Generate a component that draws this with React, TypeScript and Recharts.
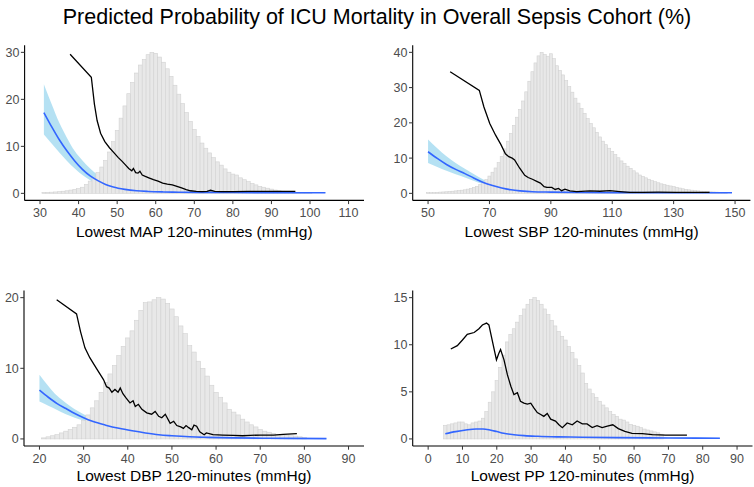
import React from 'react';
import { ComposedChart, Bar, Line, Area, XAxis, YAxis } from 'recharts';

const FONT = '"Liberation Sans", Arial, Helvetica, sans-serif';

const chartTitle = 'Predicted Probability of ICU Mortality in Overall Sepsis Cohort (%)';

// ---- MAP ----
const mapBinStart = 31;
const mapHist = [0.2, 0.2, 0.25, 0.3, 0.35, 0.45, 0.55, 0.7, 0.85, 1.0, 1.3, 1.9, 2.6, 3.4, 4.4, 5.6, 7.0, 8.8, 11.0, 13.4,
  16.0, 18.6, 21.2, 23.6, 25.6, 27.3, 28.5, 29.5, 30.0, 29.8, 29.0, 27.9, 26.5, 24.9, 23.0, 21.1, 19.1, 17.2, 15.3, 13.6,
  12.1, 10.7, 9.6, 8.6, 7.6, 6.7, 6.0, 5.2, 4.5, 4.1, 3.9, 3.3, 2.9, 2.5, 2.1, 1.8, 1.5, 1.3, 1.1, 0.9,
  0.7, 0.55, 0.45, 0.35, 0.3, 0.25, 0.2, 0.15, 0.12, 0.1];
const mapObsX = [37.8, 43.3, 44.1, 44.8, 45.7, 46.8, 48.0, 49.2, 50.3, 51.3, 52.2, 53.0, 53.8, 54.2, 54.8, 55.4, 55.9, 56.5,
  57.3, 58.2, 59.4, 60.6, 61.8, 63.0, 64.3, 65.5, 66.7, 67.9, 69.0, 70.5, 72.0, 73.3, 74.2, 75.3, 77.0, 80.0, 84.0, 88.0, 92.0, 96.2];
const mapObsY = [29.6, 24.7, 19.0, 15.5, 12.8, 11.0, 9.7, 8.6, 7.6, 6.8, 6.0, 5.3, 4.8, 5.3, 4.4, 4.3, 4.7, 3.9,
  3.6, 3.3, 2.9, 2.6, 2.2, 1.95, 1.8, 1.5, 1.15, 0.8, 0.55, 0.4, 0.35, 0.4, 0.65, 0.4, 0.35, 0.35, 0.4, 0.4, 0.4, 0.4];
const mapFitX = [31, 33, 35, 37, 39, 41, 43, 45, 47, 49, 52, 55, 58, 62, 66, 72, 80, 90, 104];
const mapFitY = [17.2, 14.2, 11.4, 9.0, 6.9, 5.1, 3.7, 2.7, 1.9, 1.35, 0.85, 0.55, 0.4, 0.3, 0.25, 0.2, 0.17, 0.15, 0.13];
const mapFitLo = [12.5, 10.6, 8.7, 6.9, 5.3, 3.9, 2.8, 2.0, 1.4, 1.0, 0.65, 0.42, 0.3, 0.22, 0.17, 0.13, 0.1, 0.08, 0.05];
const mapFitHi = [23.2, 19.0, 15.0, 11.8, 9.0, 7.0, 5.3, 3.9, 2.8, 2.0, 1.2, 0.75, 0.55, 0.42, 0.35, 0.3, 0.27, 0.24, 0.22];
const mapXTicks = [30, 40, 50, 60, 70, 80, 90, 100, 110];
const mapYTicks = [0, 10, 20, 30];

// ---- SBP ----
const sbpBinStart = 50;
const sbpHist = [0.2, 0.2, 0.25, 0.3, 0.35, 0.4, 0.45, 0.5, 0.6, 0.7, 0.8, 0.9, 1.0, 1.2, 1.4, 1.7, 2.0, 2.5, 3.1, 3.9,
  4.9, 6.0, 7.2, 8.7, 10.5, 12.6, 14.8, 17.0, 19.3, 21.6, 23.8, 26.2, 28.8, 31.8, 34.5, 37.0, 39.0, 40.0, 39.4, 38.9,
  39.6, 38.2, 36.2, 34.9, 33.6, 32.0, 30.3, 28.7, 27.0, 25.6, 24.1, 22.7, 21.2, 19.8, 18.6, 17.3, 16.0, 14.8, 13.8, 12.8,
  11.9, 11.0, 10.1, 9.2, 8.5, 7.7, 7.1, 6.4, 5.8, 5.2, 4.8, 4.4, 4.0, 3.6, 3.3, 3.0, 2.7, 2.5, 2.3, 2.1,
  1.9, 1.7, 1.5, 1.3, 1.15, 1.0, 0.9, 0.8, 0.7, 0.6, 0.55, 0.5, 0.45, 0.4, 0.35, 0.3, 0.25, 0.2];
const sbpObsX = [57.2, 66.7, 68.2, 70.1, 72.0, 73.7, 75.2, 76.3, 77.4, 78.2, 79.8, 81.5, 82.6, 84.0, 85.4, 86.6, 87.8,
  88.7, 90.3, 91.4, 92.5, 93.5, 94.6, 96.2, 98.4, 102.7, 106.0, 109.2, 112.5, 115.7, 120.0, 125.0, 130.9, 136.0, 141.7];
const sbpObsY = [34.5, 29.2, 24.5, 19.8, 16.5, 13.9, 11.2, 10.4, 10.0, 9.5, 7.2, 5.1, 4.5, 4.0, 3.4, 2.9, 1.9,
  1.7, 1.7, 1.1, 1.4, 0.75, 1.2, 0.7, 0.5, 0.7, 0.6, 0.75, 0.5, 0.3, 0.3, 0.35, 0.3, 0.3, 0.3];
const sbpFitX = [50, 53, 56, 59, 62, 65, 68, 71, 74, 77, 80, 84, 90, 100, 115, 130, 149];
const sbpFitY = [11.8, 9.9, 8.2, 6.8, 5.6, 4.3, 3.1, 2.2, 1.5, 1.0, 0.7, 0.45, 0.35, 0.25, 0.2, 0.17, 0.15];
const sbpFitLo = [8.6, 7.5, 6.4, 5.4, 4.5, 3.5, 2.6, 1.8, 1.2, 0.8, 0.55, 0.35, 0.25, 0.18, 0.13, 0.1, 0.08];
const sbpFitHi = [15.3, 12.8, 10.5, 8.6, 7.0, 5.4, 3.9, 2.8, 1.9, 1.3, 0.9, 0.6, 0.45, 0.33, 0.28, 0.25, 0.24];
const sbpXTicks = [50, 70, 90, 110, 130, 150];
const sbpYTicks = [0, 10, 20, 30, 40];

// ---- DBP ----
const dbpBinStart = 21;
const dbpHist = [0.15, 0.3, 0.45, 0.6, 0.85, 1.1, 1.35, 1.65, 2.0, 2.6, 3.4, 4.4, 5.4, 6.6, 8.0, 9.2, 10.4, 11.8, 13.1, 14.3,
  15.3, 16.8, 18.2, 19.3, 19.4, 19.7, 20.0, 19.8, 19.2, 18.4, 17.3, 16.0, 14.9, 13.2, 12.3, 11.0, 10.0, 8.9, 7.6, 6.6,
  5.9, 5.1, 4.2, 3.8, 3.4, 2.8, 2.4, 2.0, 1.7, 1.35, 1.1, 0.95, 0.8, 0.65, 0.55, 0.5, 0.45, 0.4, 0.3, 0.2];
const dbpObsX = [23.9, 28.4, 29.3, 30.3, 31.4, 32.9, 34.5, 35.2, 35.8, 36.4, 37.1, 37.8, 38.3, 38.9, 39.6, 40.5, 41.2,
  41.7, 42.4, 43.2, 44.3, 45.4, 46.2, 47.0, 47.7, 48.5, 49.6, 50.4, 51.1, 52.0, 52.6, 53.2, 53.8, 54.5, 55.0, 55.6,
  56.3, 57.3, 57.8, 59.3, 61.5, 63.9, 66.0, 67.7, 70.0, 73.0, 75.2, 78.3];
const dbpObsY = [19.7, 17.7, 15.2, 12.9, 11.5, 10.0, 8.4, 7.4, 7.2, 6.6, 7.0, 6.6, 7.2, 6.4, 5.8, 5.1, 5.4,
  4.6, 4.9, 4.2, 3.7, 3.5, 3.9, 3.2, 3.0, 3.5, 2.2, 2.5, 1.9, 1.7, 1.5, 1.9, 1.6, 1.3, 1.95, 1.8,
  1.0, 0.6, 0.85, 0.6, 0.55, 0.5, 0.45, 0.5, 0.55, 0.55, 0.65, 0.75];
const dbpFitX = [20, 22, 24, 26, 28, 30, 32, 35, 38, 41, 44, 47, 50, 54, 58, 64, 72, 85];
const dbpFitY = [6.9, 5.9, 5.0, 4.3, 3.6, 3.0, 2.5, 1.95, 1.5, 1.15, 0.85, 0.6, 0.45, 0.3, 0.22, 0.15, 0.1, 0.05];
const dbpFitLo = [5.3, 4.7, 4.1, 3.5, 3.0, 2.6, 2.2, 1.7, 1.3, 1.0, 0.75, 0.52, 0.38, 0.25, 0.17, 0.11, 0.06, 0.02];
const dbpFitHi = [9.1, 7.5, 6.1, 5.1, 4.2, 3.5, 2.9, 2.2, 1.7, 1.3, 0.95, 0.7, 0.53, 0.37, 0.28, 0.2, 0.15, 0.12];
const dbpXTicks = [20, 30, 40, 50, 60, 70, 80, 90];
const dbpYTicks = [0, 10, 20];

// ---- PP ----
const ppBinStart = 5;
const ppHist = [1.45, 1.5, 1.6, 1.7, 1.8, 1.8, 1.6, 1.5, 1.7, 1.8, 1.9, 2.2, 2.9, 3.9, 5.0, 6.2, 7.6, 8.9, 10.3, 11.1,
  11.7, 12.4, 13.1, 13.8, 14.3, 14.8, 15.0, 14.7, 14.3, 13.8, 13.2, 12.6, 12.0, 11.4, 10.9, 10.5, 9.8, 9.2, 8.5, 7.8,
  7.0, 5.9, 5.3, 4.8, 4.4, 4.0, 3.6, 3.3, 2.9, 2.6, 2.4, 2.1, 2.0, 1.8, 1.55, 1.45, 1.35, 1.2, 1.05, 0.95,
  0.85, 0.75, 0.65, 0.5];
const ppObsX = [6.6, 8.5, 10.0, 11.4, 13.4, 14.8, 15.8, 17.0, 17.7, 18.7, 19.9, 20.6, 21.1, 22.1, 23.1, 24.1, 25.0,
  26.0, 26.9, 27.9, 28.9, 29.9, 30.8, 31.8, 32.8, 33.7, 34.7, 35.7, 37.1, 38.1, 39.1, 40.5, 42.0, 43.4, 44.9, 46.3,
  47.8, 49.2, 50.7, 52.2, 53.8, 55.4, 57.3, 59.4, 62.4, 65.3, 69.2, 75.4];
const ppObsY = [9.55, 9.9, 10.5, 11.1, 11.3, 11.7, 12.1, 12.3, 12.1, 10.4, 8.4, 9.1, 9.5, 8.4, 6.8, 5.6, 4.7,
  4.9, 4.0, 3.8, 3.7, 3.8, 3.3, 2.8, 2.6, 2.4, 2.7, 2.1, 1.9, 1.5, 1.2, 1.7, 1.5, 1.9, 1.6, 1.6,
  1.2, 1.4, 1.2, 1.35, 1.5, 1.1, 0.8, 0.6, 0.57, 0.45, 0.4, 0.4];
const ppFitX = [5, 8, 11, 14, 16, 18, 20, 22, 25, 28, 32, 38, 45, 55, 70, 85];
const ppFitY = [0.56, 0.78, 0.95, 1.05, 1.05, 0.95, 0.78, 0.6, 0.45, 0.35, 0.28, 0.22, 0.18, 0.14, 0.1, 0.08];
const ppFitLo = [0.45, 0.68, 0.86, 0.96, 0.96, 0.86, 0.7, 0.53, 0.39, 0.3, 0.23, 0.18, 0.14, 0.1, 0.06, 0.03];
const ppFitHi = [0.7, 0.9, 1.06, 1.16, 1.16, 1.06, 0.88, 0.68, 0.52, 0.41, 0.33, 0.27, 0.23, 0.19, 0.15, 0.13];
const ppXTicks = [0, 10, 20, 30, 40, 50, 60, 70, 80, 90];
const ppYTicks = [0, 5, 10, 15];

const tickStyle = { fill: '#4d4d4d', fontSize: 12.5, fontFamily: FONT };

// histogram bin drawn at full bin width, centred on the bar's own x position
const binShape = (binPx: number) => (p: any) => {
  const cx = p.x + p.width / 2;
  return (
    <rect x={cx - binPx / 2} y={p.y} width={binPx} height={p.height}
      fill="#e8e8e8" stroke="#d2d2d2" strokeWidth={0.6} />
  );
};

function Panel(props: any) {
  const {
    left, top, width, height, marginTop, marginRight, yAxisWidth, xAxisHeight, labelOffset,
    xDomain, yDomain, xTicks, yTicks, binStart, hist, obsX, obsY, fitX, fitY, fitLo, fitHi, label,
  } = props;

  const histData = hist.map((h: number, i: number) => ({ x: binStart + i, h }));
  const obs = obsX.map((x: number, i: number) => ({ x, y: obsY[i] }));
  const fit = fitX.map((x: number, i: number) => ({ x, y: fitY[i], band: [fitLo[i], fitHi[i]] }));
  const plotW = width - marginRight - yAxisWidth;
  const binPx = plotW / (xDomain[1] - xDomain[0]);

  return (
    <div style={{ position: 'absolute', left, top }}>
      <ComposedChart
        width={width}
        height={height}
        data={histData}
        margin={{ top: marginTop, right: marginRight, left: 0, bottom: 0 }}
        barCategoryGap={0}
        barGap={0}
      >
        <XAxis
          type="number"
          dataKey="x"
          domain={xDomain}
          ticks={xTicks}
          allowDataOverflow
          height={xAxisHeight}
          tickSize={3.7}
          tickMargin={4.3}
          tick={tickStyle}
          axisLine={{ stroke: '#000', strokeWidth: 1.1 }}
          tickLine={{ stroke: '#333' }}
          label={{ value: label, position: 'insideBottom', offset: labelOffset, fill: '#000', fontSize: 15.5, fontFamily: FONT }}
        />
        <YAxis
          type="number"
          domain={yDomain}
          ticks={yTicks}
          allowDataOverflow
          width={yAxisWidth}
          tickSize={3.7}
          tickMargin={1.5}
          tick={tickStyle}
          axisLine={{ stroke: '#000', strokeWidth: 1.1 }}
          tickLine={{ stroke: '#333' }}
        />
        <Bar dataKey="h" shape={binShape(binPx)} isAnimationActive={false} />
        <Area data={fit} dataKey="band" type="monotone" stroke="none" fill="#87ceeb" fillOpacity={0.62} isAnimationActive={false} />
        <Line data={fit} dataKey="y" type="monotone" stroke="#3366ff" strokeWidth={1.6} dot={false} isAnimationActive={false} />
        <Line data={obs} dataKey="y" type="linear" stroke="#000" strokeWidth={1.3} dot={false} isAnimationActive={false} />
      </ComposedChart>
    </div>
  );
}

export default function App() {
  return (
    <div style={{ position: 'relative', width: 754, height: 487, background: '#fff', fontFamily: FONT }}>
      <style>{'body{margin:0;}'}</style>
      <div style={{ position: 'absolute', left: 0, top: 4, width: 754, textAlign: 'center', fontSize: 21.5, lineHeight: '26px', color: '#000' }}>
        {chartTitle}
      </div>
      <Panel left={0} top={0} width={377} height={245} marginTop={45.3} marginRight={13} yAxisWidth={24.6} xAxisHeight={44.6}
        labelOffset={8.3} xDomain={[26, 114]} yDomain={[-1.5, 31.5]} xTicks={mapXTicks} yTicks={mapYTicks}
        binStart={mapBinStart} hist={mapHist} obsX={mapObsX} obsY={mapObsY} fitX={mapFitX} fitY={mapFitY}
        fitLo={mapFitLo} fitHi={mapFitHi} label="Lowest MAP 120-minutes (mmHg)" />
      <Panel left={377} top={0} width={377} height={245} marginTop={45.3} marginRight={3.6} yAxisWidth={35.7} xAxisHeight={44.6}
        labelOffset={8.3} xDomain={[45, 155]} yDomain={[-2, 42]} xTicks={sbpXTicks} yTicks={sbpYTicks}
        binStart={sbpBinStart} hist={sbpHist} obsX={sbpObsX} obsY={sbpObsY} fitX={sbpFitX} fitY={sbpFitY}
        fitLo={sbpFitLo} fitHi={sbpFitHi} label="Lowest SBP 120-minutes (mmHg)" />
      <Panel left={0} top={245} width={377} height={242} marginTop={45.6} marginRight={13} yAxisWidth={24} xAxisHeight={41}
        labelOffset={6} xDomain={[16.5, 93.5]} yDomain={[-1, 21]} xTicks={dbpXTicks} yTicks={dbpYTicks}
        binStart={dbpBinStart} hist={dbpHist} obsX={dbpObsX} obsY={dbpObsY} fitX={dbpFitX} fitY={dbpFitY}
        fitLo={dbpFitLo} fitHi={dbpFitHi} label="Lowest DBP 120-minutes (mmHg)" />
      <Panel left={377} top={245} width={377} height={242} marginTop={45.6} marginRight={1.5} yAxisWidth={35.7} xAxisHeight={41}
        labelOffset={6} xDomain={[-4.5, 94.5]} yDomain={[-0.75, 15.75]} xTicks={ppXTicks} yTicks={ppYTicks}
        binStart={ppBinStart} hist={ppHist} obsX={ppObsX} obsY={ppObsY} fitX={ppFitX} fitY={ppFitY}
        fitLo={ppFitLo} fitHi={ppFitHi} label="Lowest PP 120-minutes (mmHg)" />
    </div>
  );
}
